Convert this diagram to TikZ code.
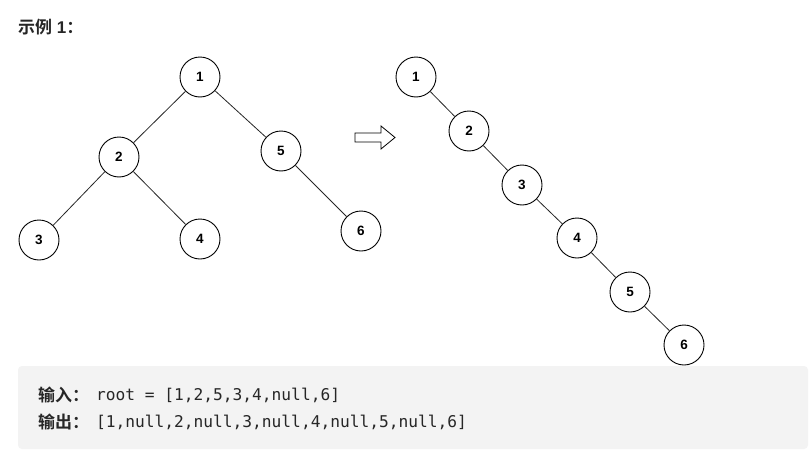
\documentclass[tikz,border=0pt]{standalone}
\usepackage{fontspec}
\setmainfont{Liberation Sans}
\newfontfamily\cjkb[BoldFont={Noto Sans CJK SC Bold}]{Noto Sans CJK SC}
\newfontfamily\monof{DejaVu Sans Mono}
\definecolor{boxgray}{HTML}{F3F3F3}
\definecolor{txt}{HTML}{262626}
\tikzset{
  tn/.style={circle,draw=black,line width=0.9pt,minimum size=40pt,inner sep=0pt,fill=white,font=\fontsize{13.5}{13.5}\selectfont\bfseries},
  edge/.style={line width=0.8pt,draw=black!85},
  lbl/.style={font=\cjkb\bfseries\fontsize{17}{17}\selectfont},
  code/.style={font=\monof\fontsize{16.2}{16}\selectfont},
}
\begin{document}
\begin{tikzpicture}[x=1pt,y=-1pt]
\useasboundingbox (0,0) rectangle (812,458);
\fill[white] (0,0) rectangle (812,458);
% title
\node[anchor=west,inner sep=0pt,text=txt,font=\fontsize{17}{17}\selectfont\bfseries] (title) at (18,27) {{\cjkb\bfseries 示例} 1{\cjkb\bfseries ：}};
% left tree
\node[tn] (a1) at (200,77) {1};
\node[tn] (a2) at (119,157) {2};
\node[tn] (a5) at (281,151) {5};
\node[tn] (a3) at (39,240) {3};
\node[tn] (a4) at (200,239) {4};
\node[tn] (a6) at (361,231) {6};
\draw[edge] (a1) -- (a2);
\draw[edge] (a1) -- (a5);
\draw[edge] (a2) -- (a3);
\draw[edge] (a2) -- (a4);
\draw[edge] (a5) -- (a6);
% arrow
\draw[line width=0.8pt,fill=white] (355,133) -- (381,133) -- (381,126) -- (395,137.5) -- (381,149) -- (381,142) -- (355,142) -- cycle;
% right tree
\node[tn] (b1) at (416,77) {1};
\node[tn] (b2) at (469,131) {2};
\node[tn] (b3) at (522,185) {3};
\node[tn] (b4) at (577,238) {4};
\node[tn] (b5) at (630,292) {5};
\node[tn] (b6) at (684,345) {6};
\draw[edge] (b1) -- (b2);
\draw[edge] (b2) -- (b3);
\draw[edge] (b3) -- (b4);
\draw[edge] (b4) -- (b5);
\draw[edge] (b5) -- (b6);
% code box
\fill[boxgray,rounded corners=4pt] (18,366) rectangle (808,449);
\node[anchor=west,inner sep=0pt,text=txt,lbl] (inl) at (38,395) {输入：};
\node[anchor=west,inner sep=0pt,text=txt,code] (inc) at (96,395) {root = [1,2,5,3,4,null,6]};
\node[anchor=west,inner sep=0pt,text=txt,lbl] (outl) at (38,422) {输出：};
\node[anchor=west,inner sep=0pt,text=txt,code] (outc) at (96,422) {[1,null,2,null,3,null,4,null,5,null,6]};
\end{tikzpicture}
\end{document}
